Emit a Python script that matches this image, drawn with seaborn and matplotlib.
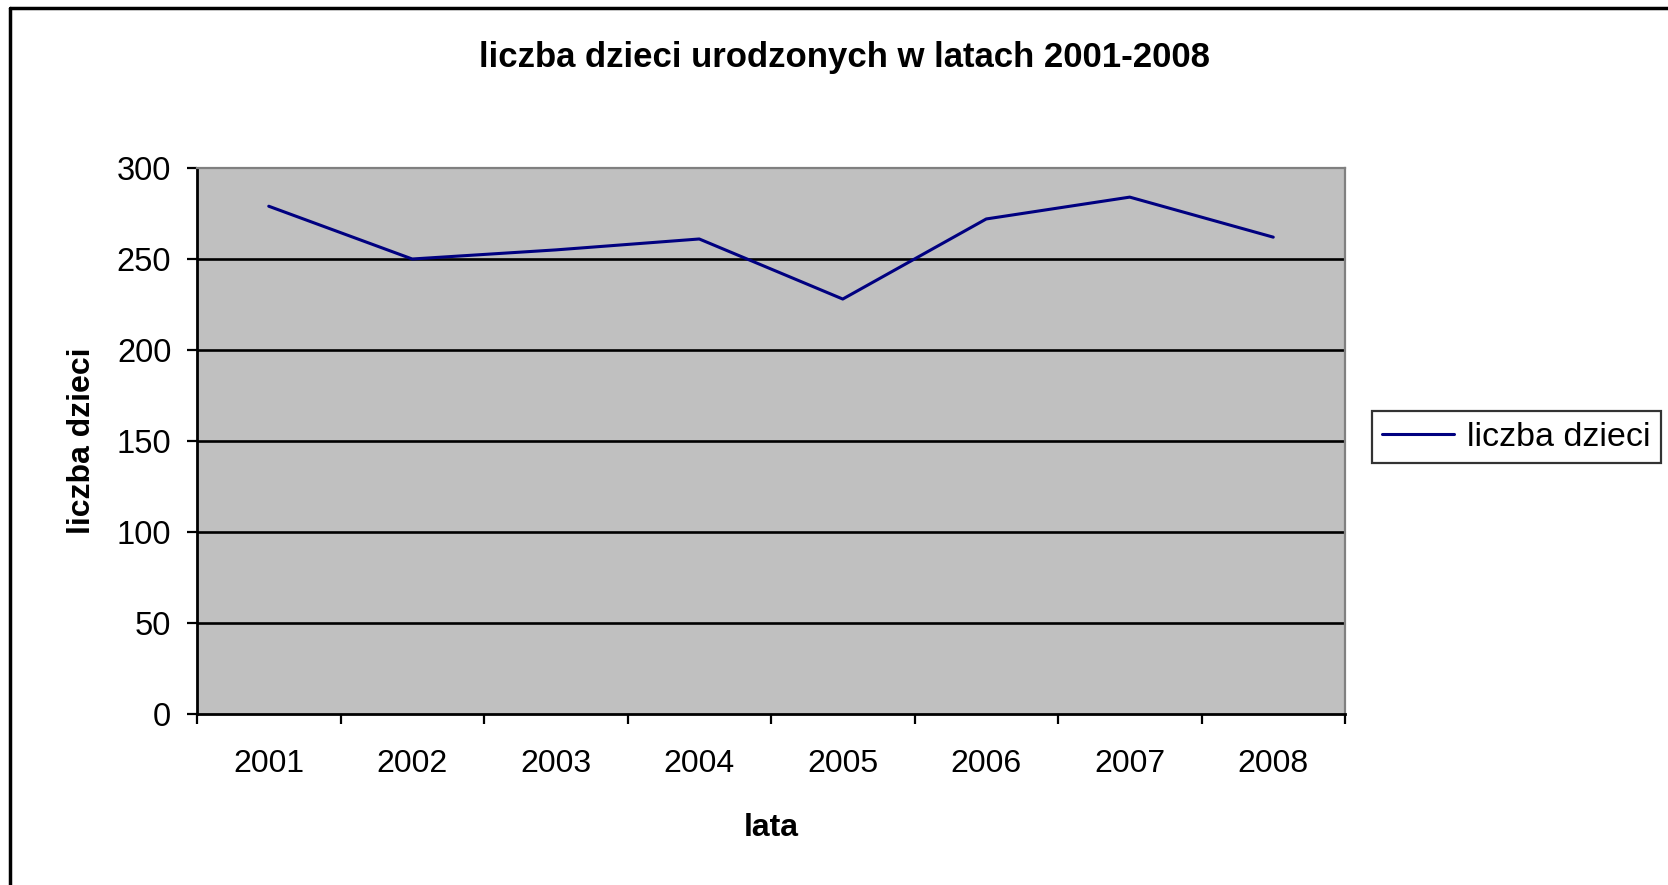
import matplotlib
matplotlib.use("Agg")
import matplotlib.pyplot as plt
import seaborn as sns
import pandas as pd
from matplotlib.lines import Line2D

years = ["2001", "2002", "2003", "2004", "2005", "2006", "2007", "2008"]
births = [279, 250, 255, 261, 228, 272, 284, 262]
y_ticks = [0, 50, 100, 150, 200, 250, 300]
series_name = "liczba dzieci"
title = "liczba dzieci urodzonych w latach 2001-2008"
x_label = "lata"
y_label = "liczba dzieci"

sns.set_style("white")
plt.rcParams["font.family"] = ["Liberation Sans", "DejaVu Sans"]
plt.rcParams["text.color"] = "black"
plt.rcParams["axes.labelcolor"] = "black"
plt.rcParams["xtick.color"] = "black"
plt.rcParams["ytick.color"] = "black"

df = pd.DataFrame({"rok": years, series_name: births})

W, H = 1668, 885
fig = plt.figure(figsize=(W / 100, H / 100), dpi=100)
ax = fig.add_axes([197 / W, 1 - 714 / H, (1345 - 197) / W, (714 - 168) / H])
ax.set_facecolor("#C0C0C0")

sns.lineplot(data=df, x="rok", y=series_name, ax=ax, color="#000080",
             linewidth=2.2, label=series_name, legend=False, sort=False, zorder=3)

ax.set_ylim(0, 300)
ax.set_xlim(-0.5, len(years) - 0.5)
ax.set_yticks(y_ticks)
ax.set_yticklabels([str(v) for v in y_ticks], fontsize=23.5)
for v in y_ticks[1:-1]:
    ax.axhline(v, color="black", linewidth=1.9, zorder=1)

# x ticks between categories, labels at category centres
ax.set_xticks([i - 0.5 for i in range(len(years) + 1)])
ax.set_xticklabels([""] * (len(years) + 1))
ax.set_xticks(range(len(years)), minor=True)
ax.set_xticklabels(years, minor=True, fontsize=23)
ax.tick_params(axis="x", which="major", direction="out", length=7, width=1.6, color="black", bottom=True)
ax.tick_params(axis="x", which="minor", length=0, pad=25, bottom=True)
ax.tick_params(axis="y", direction="out", length=7, width=1.6, color="black", pad=11.5, left=True)

for side in ["left", "bottom"]:
    ax.spines[side].set_color("black")
    ax.spines[side].set_linewidth(2.0)
for side in ["top", "right"]:
    ax.spines[side].set_color("#808080")
    ax.spines[side].set_linewidth(1.6)

ax.set_xlabel(x_label, fontsize=23, fontweight="bold", labelpad=25)
ax.set_ylabel(y_label, fontsize=23, fontweight="bold", labelpad=14)

fig.text(845 / W, 1 - 58 / H, title, ha="center", va="center",
         fontsize=25, fontweight="bold")

handle = Line2D([], [], color="#000080", linewidth=2.2)
leg = fig.legend([handle], [series_name], loc="center left",
                 bbox_to_anchor=(1372 / W, 1 - 437 / H), fontsize=24.5,
                 frameon=True, fancybox=False, edgecolor="black",
                 handlelength=2.1, handletextpad=0.4, borderpad=0.3,
                 borderaxespad=0)
leg.get_frame().set_linewidth(1.6)

# outer chart border (top and left visible)
fig.add_artist(Line2D([10 / W, 1.0], [1 - 8 / H, 1 - 8 / H], transform=fig.transFigure,
                      color="black", linewidth=2.5))
fig.add_artist(Line2D([10 / W, 10 / W], [0, 1 - 8 / H], transform=fig.transFigure,
                      color="black", linewidth=2.5))

fig.savefig("out.png", dpi=100)
